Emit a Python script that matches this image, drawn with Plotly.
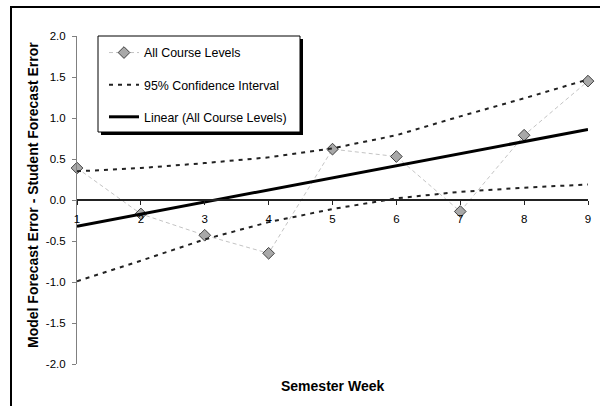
import plotly.graph_objects as go

# ---- data ----
weeks = [1, 2, 3, 4, 5, 6, 7, 8, 9]
week_labels = ["1", "2", "3", "4", "5", "6", "7", "8", "9"]
all_levels = [0.39, -0.17, -0.43, -0.65, 0.62, 0.53, -0.14, 0.79, 1.45]
ci_upper = [0.35, 0.39, 0.45, 0.52, 0.63, 0.79, 1.02, 1.24, 1.47]
ci_lower = [-0.99, -0.74, -0.48, -0.27, -0.11, 0.02, 0.10, 0.15, 0.19]
trend_x = [1, 9]
trend_y = [-0.32, 0.86]
y_ticks = [-2.0, -1.5, -1.0, -0.5, 0.0, 0.5, 1.0, 1.5, 2.0]
y_tick_labels = ["-2.0", "-1.5", "-1.0", "-0.5", "0.0", "0.5", "1.0", "1.5", "2.0"]

FONT = "Liberation Sans, Arial, sans-serif"
W, H = 601, 406
L, R, T, B = 77, 13, 36, 42
pw, ph = W - L - R, H - T - B


def px(x):
    return (x - L) / pw


def py(y):
    return (H - B - y) / ph


fig = go.Figure()
fig.add_trace(go.Scatter(
    x=weeks, y=all_levels, name="All Course Levels", mode="lines+markers",
    line=dict(color="#c4c4c4", width=1, dash="4px,3px"),
    marker=dict(symbol="diamond", size=9, color="#a8a8a8",
                line=dict(color="#404040", width=1)),
    legendgroup="a", cliponaxis=False))
fig.add_trace(go.Scatter(
    x=weeks, y=ci_upper, name="95% Confidence Interval", mode="lines",
    line=dict(color="#222222", width=2, dash="4px,5px"), legendgroup="b"))
fig.add_trace(go.Scatter(
    x=weeks, y=ci_lower, name="95% Confidence Interval", mode="lines",
    line=dict(color="#222222", width=2, dash="4px,5px"), legendgroup="b",
    showlegend=False))
fig.add_trace(go.Scatter(
    x=trend_x, y=trend_y, name="Linear (All Course Levels)", mode="lines",
    line=dict(color="#000000", width=3), legendgroup="c"))

shapes = [
    # outer frame: top and left edges (the rest is outside the picture)
    dict(type="path", xref="paper", yref="paper",
         path=f"M {px(11)},{py(406)} L {px(11)},{py(7)} L {px(600)},{py(7)}",
         line=dict(color="#000000", width=2)),
    # legend shadow + box
    dict(type="rect", xref="paper", yref="paper", x0=px(101), x1=px(303),
         y0=py(39), y1=py(135), fillcolor="#000000",
         line=dict(color="#000000", width=0), layer="above"),
    dict(type="rect", xref="paper", yref="paper", x0=px(98), x1=px(300),
         y0=py(36), y1=py(132), fillcolor="#ffffff",
         line=dict(color="#000000", width=1), layer="above"),
]

fig.update_layout(
    width=W, height=H,
    margin=dict(l=L, r=R, t=T, b=B, autoexpand=False),
    paper_bgcolor="#ffffff", plot_bgcolor="#ffffff",
    font=dict(family=FONT, size=12, color="#000000"),
    showlegend=True,
    legend=dict(x=px(104), y=py(38), xanchor="left", yanchor="top",
                bgcolor="rgba(0,0,0,0)", borderwidth=0,
                tracegroupgap=13, traceorder="grouped",
                font=dict(family=FONT, size=12.4, color="#000000")),
    shapes=shapes,
    annotations=[
        dict(text="<b>Semester Week</b>", xref="paper", yref="paper",
             x=px(332), y=py(386), xanchor="center", yanchor="middle",
             showarrow=False, font=dict(family=FONT, size=14)),
        dict(text="<b>Model Forecast Error - Student Forecast Error</b>",
             xref="paper", yref="paper", x=px(33), y=py(195),
             xanchor="center", yanchor="middle", textangle=-90,
             showarrow=False, font=dict(family=FONT, size=14)),
    ],
)

fig.update_xaxes(
    range=[1, 9], tickvals=weeks, ticktext=week_labels,
    anchor="free", position=0.5, showline=True, linecolor="#222222",
    linewidth=2, ticks="outside", ticklen=4, tickcolor="#222222",
    tickwidth=1, showgrid=False, zeroline=False,
    tickfont=dict(family=FONT, size=11.5), ticklabelstandoff=4)
fig.update_yaxes(
    range=[-2, 2], tickvals=y_ticks, ticktext=y_tick_labels,
    showline=True, linecolor="#808080", linewidth=1, ticks="outside",
    ticklen=4, tickcolor="#808080", showgrid=False, zeroline=False,
    tickfont=dict(family=FONT, size=11.5), ticklabelstandoff=4)

fig.write_html(
    "out.html",
    config={"displayModeBar": False},
    post_script="document.body.style.margin='0';"
                "document.body.style.overflow='hidden';",
)
